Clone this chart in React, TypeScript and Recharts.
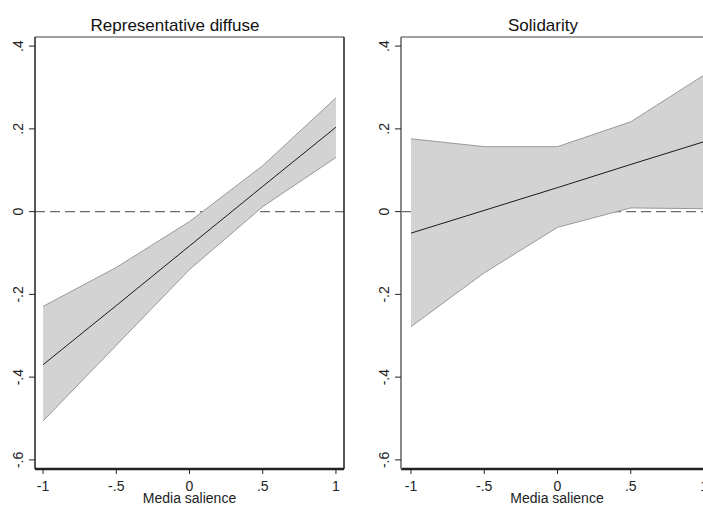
import React from 'react';
import { ComposedChart, Area, Line, XAxis, YAxis, ReferenceLine } from 'recharts';

// Marginal effects over media salience, with 95% bands
const salience = [-1, -0.5, 0, 0.5, 1];

const diffuseEst = [-0.37, -0.227, -0.083, 0.061, 0.204];
const diffuseLow = [-0.506, -0.323, -0.14, 0.012, 0.131];
const diffuseHigh = [-0.229, -0.135, -0.024, 0.111, 0.275];

const solidarityEst = [-0.052, 0.003, 0.058, 0.114, 0.169];
const solidarityLow = [-0.278, -0.148, -0.038, 0.009, 0.007];
const solidarityHigh = [0.176, 0.157, 0.157, 0.217, 0.33];

const xTicks = [-1, -0.5, 0, 0.5, 1];
const xTickLabels = ['-1', '-.5', '0', '.5', '1'];
const yTicks = [-0.6, -0.4, -0.2, 0, 0.2, 0.4];
const yTickLabels = ['-.6', '-.4', '-.2', '0', '.2', '.4'];

const FONT = '"Liberation Sans", Arial, Helvetica, sans-serif';
const Y_DOMAIN: [number, number] = [-0.622, 0.422];

const rows = (est: number[], lo: number[], hi: number[]) =>
  salience.map((x, i) => ({ x, est: est[i], band: [lo[i], hi[i]] }));

const XTick = (props: any) => {
  const i = xTicks.indexOf(props.payload.value);
  return (
    <text x={props.x} y={props.y + 15} textAnchor="middle" fontSize={14} fontFamily={FONT} fill="#222">
      {xTickLabels[i]}
    </text>
  );
};

const YTick = (props: any) => {
  const i = yTicks.findIndex((t) => Math.abs(t - props.payload.value) < 1e-9);
  const bx = props.x - 4;
  return (
    <text
      x={bx}
      y={props.y}
      transform={`rotate(-90 ${bx} ${props.y})`}
      textAnchor="middle"
      fontSize={14}
      fontFamily={FONT}
      fill="#222"
    >
      {yTickLabels[i]}
    </text>
  );
};

type PanelProps = {
  data: { x: number; est: number; band: number[] }[];
  width: number;
  yAxisWidth: number;
  xDomain: [number, number];
  leftAxisColor: string;
  leftAxisWidth: number;
  rightBorder: boolean;
};

function Panel({ data, width, yAxisWidth, xDomain, leftAxisColor, leftAxisWidth, rightBorder }: PanelProps) {
  return (
    <ComposedChart width={width} height={505} data={data} margin={{ top: 37, right: 8, left: 0, bottom: 0 }}>
      <XAxis
        type="number"
        dataKey="x"
        domain={xDomain}
        ticks={xTicks}
        allowDataOverflow
        height={36}
        tickSize={5}
        axisLine={{ stroke: '#222', strokeWidth: 2.5 }}
        tickLine={{ stroke: '#222' }}
        tick={<XTick />}
      />
      <YAxis
        type="number"
        domain={Y_DOMAIN}
        ticks={yTicks}
        allowDataOverflow
        width={yAxisWidth}
        tickSize={6}
        axisLine={{ stroke: leftAxisColor, strokeWidth: leftAxisWidth }}
        tickLine={{ stroke: '#222' }}
        tick={<YTick />}
      />
      <ReferenceLine y={0} stroke="#6a6a6a" strokeDasharray="10 5" strokeWidth={1.2} zIndex={50} />
      <Area
        type="linear"
        dataKey="band"
        fill="#d3d3d3"
        fillOpacity={1}
        stroke="#999"
        strokeWidth={1}
        dot={false}
        activeDot={false}
        isAnimationActive={false}
      />
      <Line
        type="linear"
        dataKey="est"
        stroke="#1a1a1a"
        strokeWidth={1}
        dot={false}
        activeDot={false}
        isAnimationActive={false}
      />
      <ReferenceLine y={Y_DOMAIN[1]} stroke="#808080" strokeWidth={1.5} />
      {rightBorder && <ReferenceLine x={xDomain[1]} stroke="#222" strokeWidth={1.5} />}
    </ComposedChart>
  );
}

export default function App() {
  return (
    <div
      style={{
        position: 'absolute',
        left: 0,
        top: 0,
        width: 703,
        height: 505,
        overflow: 'hidden',
        background: '#fff',
      }}
    >
      <div style={{ position: 'absolute', left: 0, top: 0 }}>
        <Panel
          data={rows(diffuseEst, diffuseLow, diffuseHigh)}
          width={352}
          yAxisWidth={35}
          xDomain={[-1.055, 1.055]}
          leftAxisColor="#222"
          leftAxisWidth={1.5}
          rightBorder
        />
      </div>
      <div style={{ position: 'absolute', left: 352, top: 0 }}>
        <Panel
          data={rows(solidarityEst, solidarityLow, solidarityHigh)}
          width={370}
          yAxisWidth={49}
          xDomain={[-1.068, 1.068]}
          leftAxisColor="#888"
          leftAxisWidth={2}
          rightBorder={false}
        />
      </div>
      <svg
        width={703}
        height={505}
        style={{ position: 'absolute', left: 0, top: 0, pointerEvents: 'none' }}
        fontFamily={FONT}
        fill="#111"
      >
        <text x={175} y={31} textAnchor="middle" fontSize={17}>
          Representative diffuse
        </text>
        <text x={543} y={31} textAnchor="middle" fontSize={17}>
          Solidarity
        </text>
        <text x={189.5} y={503} textAnchor="middle" fontSize={14} fill="#222">
          Media salience
        </text>
        <text x={557} y={503} textAnchor="middle" fontSize={14} fill="#222">
          Media salience
        </text>
      </svg>
    </div>
  );
}
